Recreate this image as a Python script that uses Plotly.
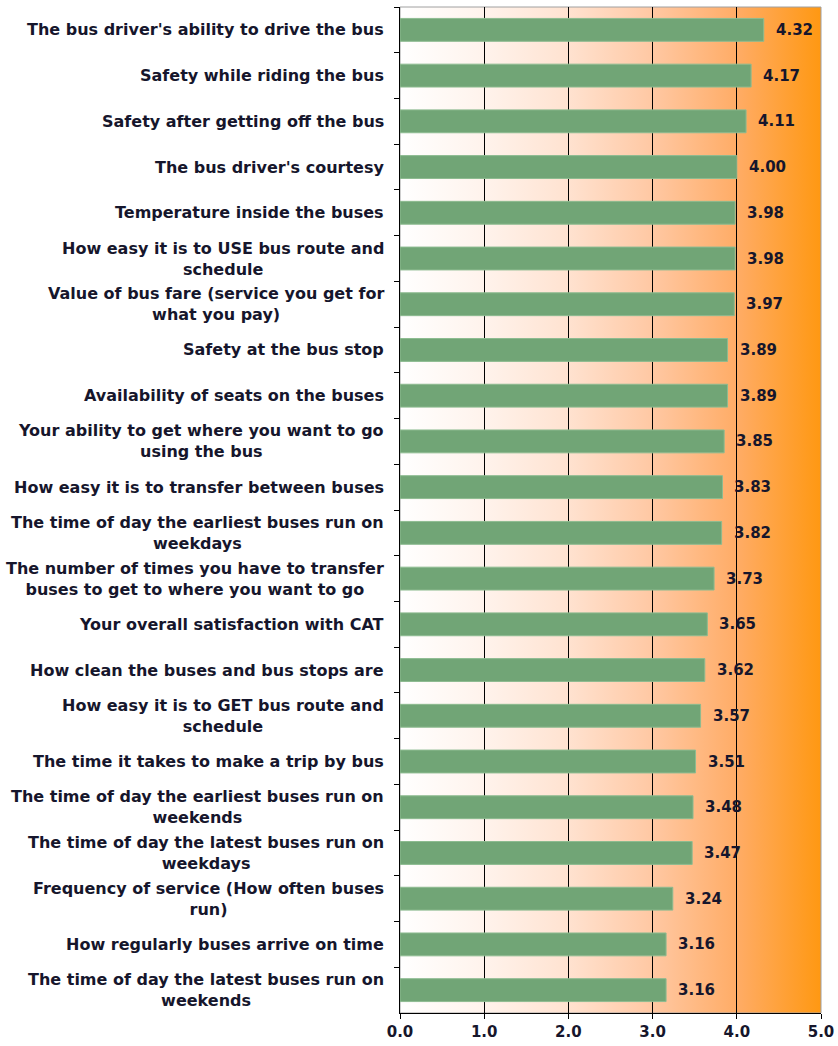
import plotly.graph_objects as go
import urllib.parse

categories = [
    "The bus driver's ability to drive the bus",
    "Safety while riding the bus",
    "Safety after getting off the bus",
    "The bus driver's courtesy",
    "Temperature inside the buses",
    "How easy it is to USE bus route and<br>schedule",
    "Value of bus fare (service you get for<br>what you pay)",
    "Safety at the bus stop",
    "Availability of seats on the buses",
    "Your ability to get where you want to go<br>using the bus",
    "How easy it is to transfer between buses",
    "The time of day the earliest buses run on<br>weekdays",
    "The number of times you have to transfer<br>buses to get to where you want to go",
    "Your overall satisfaction with CAT",
    "How clean the buses and bus stops are",
    "How easy it is to GET bus route and<br>schedule",
    "The time it takes to make a trip by bus",
    "The time of day the earliest buses run on<br>weekends",
    "The time of day the latest buses run on<br>weekdays",
    "Frequency of service (How often buses<br>run)",
    "How regularly buses arrive on time",
    "The time of day the latest buses run on<br>weekends",
]
values = [4.32, 4.17, 4.11, 4.00, 3.98, 3.98, 3.97, 3.89, 3.89, 3.85, 3.83,
          3.82, 3.73, 3.65, 3.62, 3.57, 3.51, 3.48, 3.47, 3.24, 3.16, 3.16]
x_ticks = [0, 1, 2, 3, 4, 5]

keys = [f"c{i}" for i in range(len(categories))]

FONT = "DejaVu Sans"
TXT = "#16162c"

svg = (
    "<svg xmlns='http://www.w3.org/2000/svg' width='400' height='100' preserveAspectRatio='none'>"
    "<defs><linearGradient id='g' x1='0' y1='0' x2='1' y2='0'>"
    "<stop offset='0' stop-color='#ffffff'/>"
    "<stop offset='0.2' stop-color='#fff3ec'/>"
    "<stop offset='0.4' stop-color='#ffe2d0'/>"
    "<stop offset='0.6' stop-color='#ffc8a3'/>"
    "<stop offset='0.8' stop-color='#ffac66'/>"
    "<stop offset='1' stop-color='#ff9812'/>"
    "</linearGradient></defs>"
    "<rect width='400' height='100' fill='url(#g)'/></svg>"
)
src = "data:image/svg+xml;charset=utf-8," + urllib.parse.quote(svg)

fig = go.Figure()
fig.add_trace(go.Bar(
    x=values, y=keys, orientation="h", width=0.5,
    marker=dict(color="#71a576", line=dict(color="#8dbb90", width=1)),
    hoverinfo="skip",
))

annotations = []
for k, v in zip(keys, values):
    annotations.append(dict(
        x=v, y=k, xref="x", yref="y", text=f"<b>{v:.2f}</b>",
        showarrow=False, xanchor="left", xshift=10,
        font=dict(family=FONT, size=15, color=TXT),
    ))
for k, c in zip(keys, categories):
    annotations.append(dict(
        x=0, y=k, xref="paper", yref="y", text=f"<b>{c}</b>",
        showarrow=False, xanchor="right", xshift=-14, align="center",
        font=dict(family=FONT, size=16, color=TXT),
    ))

fig.update_layout(
    width=838, height=1046,
    margin=dict(l=400, r=17, t=7, b=33),
    paper_bgcolor="white",
    plot_bgcolor="rgba(0,0,0,0)",
    showlegend=False,
    bargap=0.5,
    annotations=annotations,
    images=[dict(source=src, xref="paper", yref="paper", x=0, y=1,
                 sizex=1, sizey=1, sizing="stretch", layer="below",
                 xanchor="left", yanchor="top")],
    shapes=[dict(type="rect", xref="paper", yref="paper", x0=0, x1=1, y0=0, y1=1,
                 line=dict(color="#a0a0a0", width=1), layer="below")],
    xaxis=dict(
        range=[0, 5], tickvals=x_ticks, ticktext=[f"<b>{t:.1f}</b>" for t in x_ticks],
        showgrid=True, gridcolor="black", gridwidth=1,
        showline=True, linecolor="black", linewidth=1,
        ticks="outside", ticklen=5, tickcolor="black",
        tickfont=dict(family=FONT, size=15, color=TXT),
        zeroline=False, fixedrange=True, automargin=False,
    ),
    yaxis=dict(
        categoryorder="array", categoryarray=keys, autorange="reversed",
        showticklabels=False, tickson="boundaries",
        ticks="outside", ticklen=5, tickcolor="black",
        showline=True, linecolor="black", linewidth=1,
        showgrid=False, zeroline=False, fixedrange=True,
    ),
)

fig.write_html("out.html", config={"displayModeBar": False},
               post_script="document.body.style.margin='0px';")
